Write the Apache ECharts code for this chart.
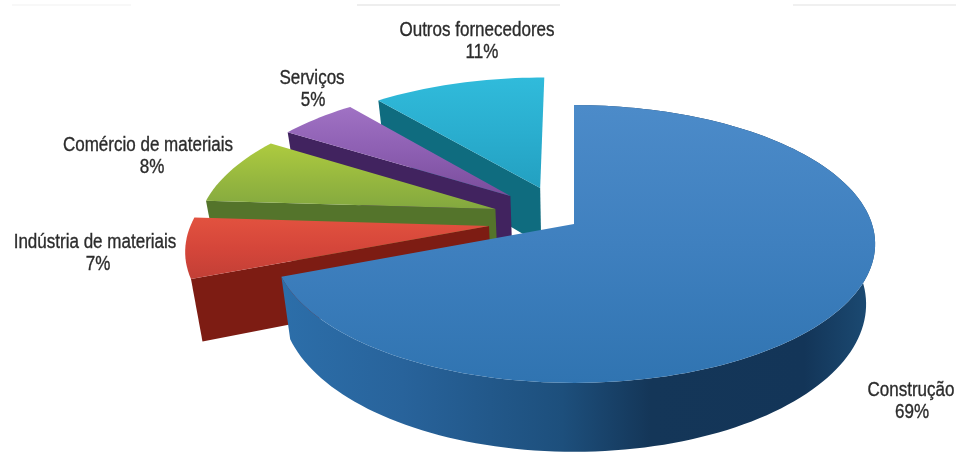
<!DOCTYPE html>
<html>
<head>
<meta charset="utf-8">
<style>html,body{margin:0;padding:0;background:#fff}#chart{width:956px;height:452px}</style>
<script src="https://cdn.jsdelivr.net/npm/echarts@6/dist/echarts.min.js"></script>
</head>
<body>
<div id="chart"></div>
<script>
// Share of the value chain by segment, clockwise from twelve o'clock.
const categories = ['Construção', 'Indústria de materiais', 'Comércio de materiais', 'Serviços', 'Outros fornecedores'];
const shares = [69, 7, 8, 5, 11];

// Perspective disc: horizontal/vertical radii, foreshortening, thickness.
const disc = { cx: 574, cy: 224, rx: 298, ry: 136, persp: 0.144, depth: 59, floorScale: 0.97 };
// How far each slice is pulled out of the disc, in disc radii (across, away).
const pullOut = [[0, 0], [-0.2846, -0.0147], [-0.268, 0.1121], [-0.22, 0.2122], [-0.118, 0.2752]];
const nameCentres = [[911, 390], [95, 242], [148, 145], [312, 78], [477, 30]];
const shareCentres = [[912, 412], [98, 264], [152, 167], [313, 100], [482, 52]];

const palette = [
  { top: ['#4c8bc9', '#3f80bf', '#3074b1'] },
  { top: ['#e2523f', '#d5463a', '#c23f36'], wall: '#7d1c13' },
  { top: ['#aecb3f', '#98b93f', '#83a83f'], wall: '#54742b' },
  { top: ['#a072c4', '#8d5fb2', '#7a4d9c'], wall: '#41235f' },
  { top: ['#30bbdb', '#2aaecf', '#23a0c1'], wall: '#0f6c7f' }
];
const blueWall = [
  { offset: 0, color: '#2c6ea9' }, { offset: 0.2, color: '#28639b' },
  { offset: 0.47, color: '#1d4f7c' }, { offset: 0.62, color: '#143658' },
  { offset: 0.88, color: '#133558' }, { offset: 1, color: '#1c4c75' }
];

const project = (u, v, onFloor) => {
  const w = 1 + disc.persp * v;
  return [
    disc.cx + (onFloor ? disc.floorScale : 1) * disc.rx * u / w,
    disc.cy - disc.ry * v / w + (onFloor ? disc.depth / w : 0)
  ];
};

function arcPoints(a0, a1, ox, oy, onFloor) {
  const steps = Math.max(6, Math.ceil((a1 - a0) / 0.03));
  const out = [];
  for (let i = 0; i <= steps; i++) {
    const a = a0 + (a1 - a0) * i / steps;
    out.push(project(ox + Math.sin(a), oy + Math.cos(a), onFloor));
  }
  return out;
}

const total = shares.reduce((s, v) => s + v, 0);

function labelLine(text, centre) {
  // Liberation Sans narrowed and slightly thickened to a condensed semibold setting
  return {
    type: 'text',
    x: centre[0],
    y: centre[1],
    scaleX: 0.83,
    style: {
      text,
      fill: '#2b2b2b',
      stroke: '#2b2b2b',
      lineWidth: 0.35,
      font: '20.5px "Liberation Sans", sans-serif',
      align: 'center',
      verticalAlign: 'middle'
    }
  };
}

function renderSlice(params, api) {
  const index = api.value(0);
  const value = api.value(1);
  const before = shares.slice(0, index).reduce((s, v) => s + v, 0);
  const a0 = before / total * 2 * Math.PI;
  const a1 = a0 + value / total * 2 * Math.PI;
  const [ox, oy] = pullOut[index];
  const colours = palette[index];
  const children = [];

  const topArc = arcPoints(a0, a1, ox, oy, false);
  const floorArc = arcPoints(a0, a1, ox, oy, true);

  if (index === 0) {
    // Rim of the large slice
    children.push({
      type: 'polygon',
      shape: { points: topArc.concat(floorArc.slice().reverse()) },
      style: { fill: new echarts.graphic.LinearGradient(285, 0, 875, 0, blueWall, true) }
    });
  } else {
    // Cut face on the leading radial edge of an exploded slice
    children.push({
      type: 'polygon',
      shape: { points: [project(ox, oy, false), topArc[0], floorArc[0], project(ox, oy, true)] },
      style: { fill: colours.wall }
    });
  }
  // Top face
  children.push({
    type: 'polygon',
    shape: { points: [project(ox, oy, false)].concat(topArc) },
    style: {
      fill: new echarts.graphic.LinearGradient(0, 0, 0, 1, [
        { offset: 0, color: colours.top[0] },
        { offset: 0.5, color: colours.top[1] },
        { offset: 1, color: colours.top[2] }
      ])
    }
  });
  children.push(labelLine(categories[index], nameCentres[index]));
  children.push(labelLine(value + '%', shareCentres[index]));
  return { type: 'group', children };
}

// Painted back to front so nearer slices cover the walls behind them.
const paintOrder = [4, 3, 2, 1, 0];

// Faint rules along the upper edge of the page
const edgeRules = [[12, 131, '#f8f8f8'], [357, 560, '#eeeeee'], [793, 956, '#f0f0f0']];

const chart = echarts.init(document.getElementById('chart'), null, { renderer: 'canvas' });
chart.setOption({
  animation: false,
  backgroundColor: '#ffffff',
  graphic: edgeRules.map(([x1, x2, stroke]) => ({
    type: 'line',
    silent: true,
    shape: { x1, y1: 5, x2, y2: 5 },
    style: { stroke, lineWidth: 2 }
  })),
  series: [{
    type: 'custom',
    coordinateSystem: 'none',
    silent: true,
    renderItem: renderSlice,
    data: paintOrder.map(i => [i, shares[i]])
  }]
});
</script>
</body>
</html>
